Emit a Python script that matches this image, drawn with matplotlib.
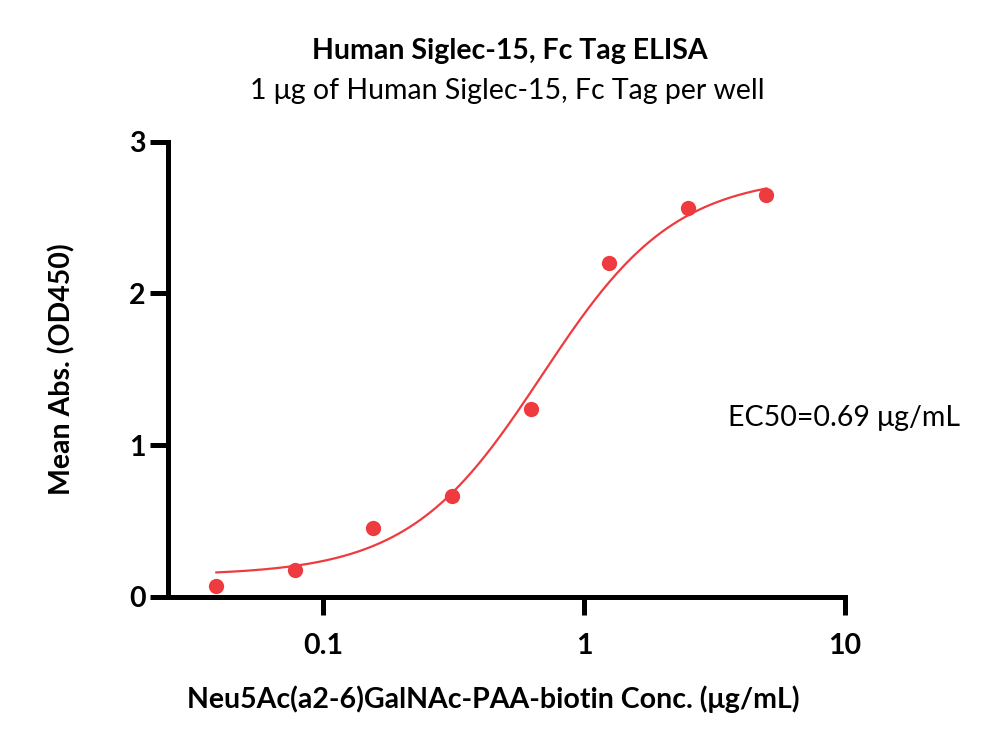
import matplotlib
matplotlib.use('Agg')
import matplotlib.pyplot as plt
import numpy as np

# measured data
conc = [0.039, 0.078, 0.156, 0.3125, 0.625, 1.25, 2.5, 5.0]
od450 = [0.073, 0.178, 0.45, 0.667, 1.236, 2.20, 2.565, 2.65]

# 4PL fit parameters
fit_bottom = 0.14
fit_top = 2.78
fit_ec50 = 0.69
fit_hill = 1.7

x_ticks = [0.1, 1, 10]
x_tick_labels = ['0.1', '1', '10']
y_ticks = [0, 1, 2, 3]

title = 'Human Siglec-15, Fc Tag ELISA'
subtitle = '1 \u03bcg of Human Siglec-15, Fc Tag per well'
x_label = 'Neu5Ac(a2-6)GalNAc-PAA-biotin Conc. (\u03bcg/mL)'
y_label = 'Mean Abs. (OD450)'
ec50_text = 'EC50=0.69 \u03bcg/mL'

red = '#EE3B3F'
fs = 20.5
plt.rcParams['font.family'] = ['Lato', 'DejaVu Sans']

fig = plt.figure(figsize=(10, 7.51), dpi=100)
ax = fig.add_axes([0.168, 0.2055, 0.677, 0.6058])

xs = np.logspace(np.log10(conc[0]), np.log10(conc[-1]), 300)
ys = fit_bottom + (fit_top - fit_bottom) / (1 + (fit_ec50 / xs) ** fit_hill)
ax.plot(xs, ys, color=red, linewidth=1.6, zorder=2)
ax.plot(conc, od450, 'o', color=red, markersize=11, markeredgewidth=0,
        zorder=3, clip_on=False)

ax.set_xscale('log')
ax.set_xlim(0.02546, 10)
ax.set_ylim(0, 3)
ax.set_xticks(x_ticks)
ax.set_xticklabels(x_tick_labels)
ax.xaxis.set_minor_locator(matplotlib.ticker.NullLocator())
ax.set_yticks(y_ticks)

for s in ['top', 'right']:
    ax.spines[s].set_visible(False)
for s in ['left', 'bottom']:
    ax.spines[s].set_linewidth(3.6)
    ax.spines[s].set_capstyle('projecting')
ax.tick_params(axis='both', length=13, width=3.6, labelsize=fs,
               direction='out')
ax.tick_params(axis='x', pad=13)
ax.tick_params(axis='y', pad=3)
for lbl in ax.get_xticklabels() + ax.get_yticklabels():
    lbl.set_fontweight('bold')

ax.set_xlabel(x_label, fontsize=fs, fontweight='bold')
ax.set_ylabel(y_label, fontsize=fs, fontweight='bold')
ax.xaxis.set_label_coords(0.48, -0.196)
ax.yaxis.set_label_coords(-0.137, 0.5)

fig.text(0.51, 0.932, title, ha='center', va='center', fontsize=fs,
         fontweight='bold')
fig.text(0.507, 0.879, subtitle, ha='center', va='center', fontsize=fs)
fig.text(0.728, 0.443, ec50_text, ha='left', va='center', fontsize=fs)

fig.savefig('out.png', dpi=100)
